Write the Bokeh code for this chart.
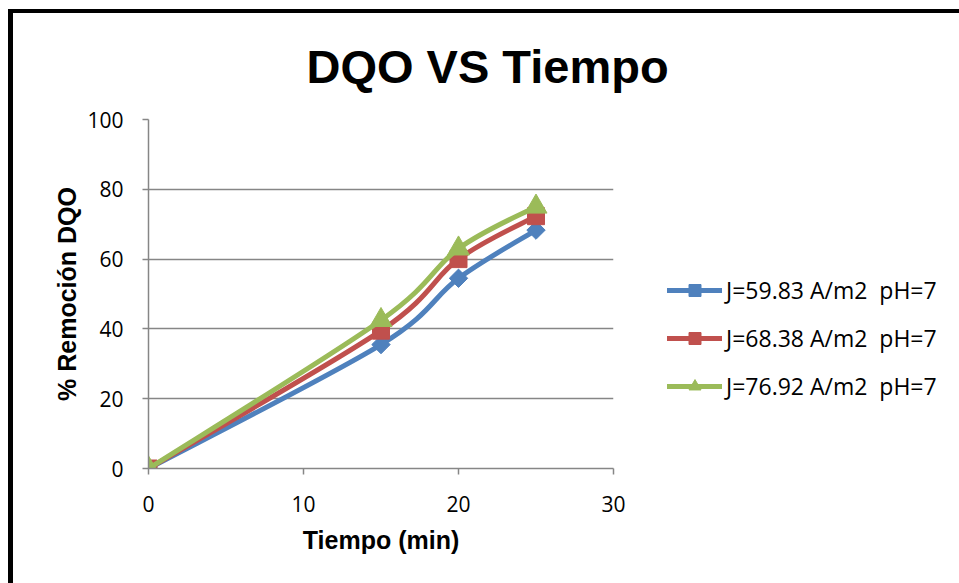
import numpy as np
from bokeh.plotting import figure
from bokeh.models import Range1d, Legend, LegendItem, ColumnDataSource, FixedTicker
from bokeh.embed import file_html
from bokeh.resources import INLINE

# ---- data ----
tiempo = [0, 15, 20, 25]
remocion_j5983 = [0, 35.5, 54.5, 68.3]
remocion_j6838 = [0, 39.5, 60.0, 72.3]
remocion_j7692 = [0, 42.5, 63.0, 75.0]
series_names = ["J=59.83 A/m2  pH=7", "J=68.38 A/m2  pH=7", "J=76.92 A/m2  pH=7"]
x_ticks = [0, 10, 20, 30]
y_ticks = [0, 20, 40, 60, 80, 100]

colors = ["#4F81BD", "#C0504D", "#9BBB59"]
markers = ["square", "square", "triangle"]
angles = [np.pi / 4, 0, 0]
sizes = [13, 17, 22]

p = figure(frame_width=465, frame_height=349, x_range=Range1d(0, 30), y_range=Range1d(0, 100),
           output_backend="svg", toolbar_location=None,
           min_border_left=135, min_border_right=0, min_border_top=106,
           min_border_bottom=115, background_fill_color="white",
           border_fill_color="white")
p.styles = {"border-style": "solid none none solid", "border-width": "4px 0px 0px 5px",
            "border-color": "black", "margin-left": "8px", "margin-top": "9px",
            "box-sizing": "content-box"}
p.outline_line_color = None

p.title.text = "DQO VS Tiempo"
p.title.text_font = "Liberation Sans"
p.title.text_font_style = "bold"
p.title.text_font_size = "47px"
p.title.text_color = "black"
p.title.align = "left"
p.title.vertical_align = "top"
p.title.offset = 158
p.title.standoff = 49

grid_col = "#868686"
p.xgrid.grid_line_color = None
p.ygrid.grid_line_color = grid_col
p.ygrid.grid_line_width = 1.5
p.ygrid.ticker = FixedTicker(ticks=y_ticks)

for ax in (p.xaxis[0], p.yaxis[0]):
    ax.axis_line_color = grid_col
    ax.axis_line_width = 1.5
    ax.major_tick_line_color = grid_col
    ax.major_tick_line_width = 1.5
    ax.major_tick_out = 6
    ax.major_tick_in = 0
    ax.minor_tick_line_color = None
    ax.major_label_text_font = "Open Sans"
    ax.major_label_text_font_size = "21px"
    ax.major_label_text_color = "black"
    ax.axis_label_text_font = "Liberation Sans"
    ax.axis_label_text_font_style = "bold"
    ax.axis_label_text_font_size = "25px"
    ax.axis_label_text_color = "black"

p.xaxis.ticker = FixedTicker(ticks=x_ticks)
p.yaxis.ticker = FixedTicker(ticks=y_ticks)
p.xaxis.axis_label = "Tiempo (min)"
p.yaxis.axis_label = "% Remoción DQO"
p.xaxis.major_label_standoff = 21
p.yaxis.major_label_standoff = 19
p.xaxis.axis_label_standoff = 11
p.yaxis.axis_label_standoff = 3


def smooth_segments(xs, ys):
    x = np.asarray(xs, dtype=float)
    y = np.asarray(ys, dtype=float)
    xp = np.concatenate([[x[0]], x, [x[-1]]])
    yp = np.concatenate([[y[0]], y, [y[-1]]])
    n = len(x) - 1
    d = dict(x0=[], y0=[], x1=[], y1=[], cx0=[], cy0=[], cx1=[], cy1=[])
    for i in range(n):
        a, b, c, e = i, i + 1, i + 2, i + 3
        d["x0"].append(xp[b]); d["y0"].append(yp[b])
        d["x1"].append(xp[c]); d["y1"].append(yp[c])
        d["cx0"].append(xp[b] + (xp[c] - xp[a]) / 6)
        d["cy0"].append(yp[b] + (yp[c] - yp[a]) / 6)
        d["cx1"].append(xp[c] - (xp[e] - xp[b]) / 6)
        d["cy1"].append(yp[c] - (yp[e] - yp[b]) / 6)
    return ColumnDataSource(d)


items = []
for ys, name, col, mk, ang, sz in zip([remocion_j5983, remocion_j6838, remocion_j7692],
                                      series_names, colors, markers, angles, sizes):
    src = smooth_segments(tiempo, ys)
    r_line = p.bezier(x0="x0", y0="y0", x1="x1", y1="y1", cx0="cx0", cy0="cy0",
                      cx1="cx1", cy1="cy1", source=src, line_color=col,
                      line_width=5, line_cap="round")
    r_mark = p.scatter(x=tiempo, y=ys, marker=mk, size=sz, angle=ang,
                       fill_color=col, line_color=col, line_width=1)
    items.append(LegendItem(label=name, renderers=[r_line, r_mark]))

legend = Legend(items=items, location=(54, 66), padding=0, margin=0,
                spacing=16, glyph_width=55, glyph_height=30, label_height=30,
                label_standoff=4, label_text_font="Open Sans",
                label_text_font_size="23px", label_text_color="black",
                border_line_alpha=0, background_fill_alpha=0)
p.add_layout(legend, "right")

open("out.html", "w").write(file_html(p, INLINE))
